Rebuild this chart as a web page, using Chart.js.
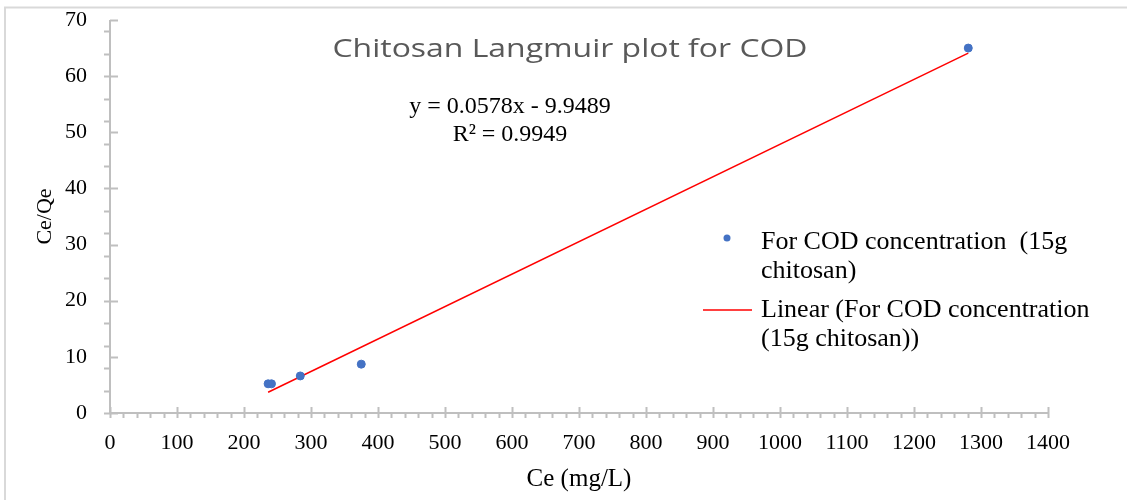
<!DOCTYPE html>
<html lang="en">
<head>
<meta charset="UTF-8">
<script src="https://cdn.jsdelivr.net/npm/chart.js@4.4.0/dist/chart.umd.min.js"></script>
<title>Chitosan Langmuir plot for COD</title>
<style>
  body { margin: 0; background: #fff; }
  canvas { display: block; }
</style>
</head>
<body>
<canvas id="chart" width="1127" height="500"></canvas>
<script>
// measured points: Ce (mg/L) against Ce/Qe
const ceValues = [236, 241, 284, 375, 1281];
const ceQeValues = [5.2, 5.2, 6.6, 8.7, 65.0];

// fitted line as reported on the chart
const fitSlope = 0.0578;
const fitIntercept = -9.9489;
const fitR2 = 0.9949;

const xMin = 0, xMax = 1400, xStep = 100, xMinorStep = 20;
const yMin = 0, yMax = 70, yStep = 10, yMinorStep = 4;

const chartTitle = 'Chitosan Langmuir plot for COD';
const seriesName = ['For COD concentration  (15g', 'chitosan)'];
const trendName = ['Linear (For COD concentration', '(15g chitosan))'];

const serif = "'Liberation Serif', 'Times New Roman', serif";
const axisGray = '#bfbfbf';

const points = ceValues.map((x, i) => ({ x: x, y: ceQeValues[i] }));
const fitX = [Math.min(...ceValues), Math.max(...ceValues)];
const fitLine = fitX.map(x => ({ x: x, y: fitSlope * x + fitIntercept }));

// outer frame
const frame = {
  id: 'frame',
  beforeDraw(chart) {
    const ctx = chart.ctx;
    ctx.save();
    ctx.fillStyle = '#fff';
    ctx.fillRect(0, 0, chart.width, chart.height);
    ctx.strokeStyle = '#d9d9d9';
    ctx.lineWidth = 2;
    ctx.strokeRect(5, 7.5, 2000, 2000);
    ctx.restore();
  }
};

// axis lines with major and minor tick marks
const axisTicks = {
  id: 'axisTicks',
  beforeDatasetsDraw(chart) {
    const ctx = chart.ctx;
    const xs = chart.scales.x, ys = chart.scales.y;
    const x0 = xs.getPixelForValue(xMin), x1 = xs.getPixelForValue(xMax);
    const y0 = ys.getPixelForValue(yMin), y1 = ys.getPixelForValue(yMax);
    ctx.save();
    ctx.strokeStyle = axisGray;
    ctx.lineWidth = 2;
    ctx.beginPath();
    ctx.moveTo(x0, y1); ctx.lineTo(x0, y0); ctx.lineTo(x1, y0);
    // x: minor outside, major across
    for (let v = xMin; v <= xMax; v += xMinorStep) {
      const px = Math.round(xs.getPixelForValue(v)) + 0.5;
      ctx.moveTo(px, y0); ctx.lineTo(px, y0 + 5);
    }
    for (let v = xMin; v <= xMax; v += xStep) {
      const px = Math.round(xs.getPixelForValue(v)) + 0.5;
      ctx.moveTo(px, y0 - 6); ctx.lineTo(px, y0);
    }
    // y: minor outside, major inside
    for (let v = yMin; v <= yMax; v += yMinorStep) {
      const py = Math.round(ys.getPixelForValue(v)) + 0.5;
      ctx.moveTo(x0 - 6, py); ctx.lineTo(x0, py);
    }
    for (let v = yMin; v <= yMax; v += yStep) {
      const py = Math.round(ys.getPixelForValue(v)) + 0.5;
      ctx.moveTo(x0, py); ctx.lineTo(x0 + 8, py);
    }
    ctx.stroke();
    ctx.restore();
  }
};

// title, regression equation and legend
const labels = {
  id: 'labels',
  afterDraw(chart) {
    const ctx = chart.ctx;
    ctx.save();
    ctx.textBaseline = 'middle';

    // title is wide and light, stretch it to its box
    ctx.save();
    ctx.fillStyle = '#595959';
    ctx.textAlign = 'center';
    ctx.font = "26px 'Open Sans', Lato, sans-serif";
    const tw = ctx.measureText(chartTitle).width;
    ctx.translate(570, 50);
    ctx.scale(475 / tw, 1);
    ctx.fillText(chartTitle, 0, 0);
    ctx.restore();

    ctx.fillStyle = '#000';
    ctx.textAlign = 'center';
    ctx.font = '24px ' + serif;
    ctx.fillText('y = ' + fitSlope + 'x - ' + Math.abs(fitIntercept), 510, 107);
    ctx.fillText('R\u00b2 = ' + fitR2, 510, 135);

    ctx.textAlign = 'left';
    ctx.font = '26px ' + serif;
    ctx.fillStyle = '#4472c4';
    ctx.beginPath();
    ctx.arc(727, 238, 3.5, 0, Math.PI * 2);
    ctx.fill();
    ctx.strokeStyle = '#ff0000';
    ctx.lineWidth = 1.5;
    ctx.beginPath();
    ctx.moveTo(703, 310); ctx.lineTo(752, 310);
    ctx.stroke();

    ctx.fillStyle = '#000';
    ctx.fillText(seriesName[0], 761, 242);
    ctx.fillText(seriesName[1], 761, 271);
    ctx.fillText(trendName[0], 761, 310);
    ctx.fillText(trendName[1], 761, 339);
    ctx.restore();
  }
};

const plainNumber = v => String(v);

new Chart(document.getElementById('chart'), {
  type: 'scatter',
  data: {
    datasets: [
      {
        label: seriesName.join(' '),
        data: points,
        backgroundColor: '#4472c4',
        borderColor: '#4472c4',
        pointRadius: 4,
        pointHoverRadius: 4
      },
      {
        type: 'line',
        label: trendName.join(' '),
        data: fitLine,
        borderColor: '#ff0000',
        borderWidth: 1.5,
        pointRadius: 0,
        fill: false
      }
    ]
  },
  options: {
    responsive: false,
    animation: false,
    layout: { padding: { top: 20, right: 79, left: 0, bottom: 0 } },
    plugins: {
      legend: { display: false },
      title: { display: false },
      tooltip: { enabled: false }
    },
    scales: {
      x: {
        type: 'linear',
        min: xMin, max: xMax,
        grid: { display: false },
        border: { display: false },
        ticks: { stepSize: xStep, color: '#000', padding: 9, callback: plainNumber, font: { family: serif, size: 22 } },
        title: { display: true, text: 'Ce (mg/L)', color: '#000', padding: { top: 0, bottom: 6 }, font: { family: serif, size: 25 } },
        afterFit(scale) { scale.height = 87; }
      },
      y: {
        type: 'linear',
        min: yMin, max: yMax,
        grid: { display: false },
        border: { display: false },
        ticks: { stepSize: yStep, color: '#000', padding: 15, callback: plainNumber, font: { family: serif, size: 22 } },
        title: { display: true, text: 'Ce/Qe', color: '#000', padding: { top: 32, bottom: 0 }, font: { family: serif, size: 22 } },
        afterFit(scale) {
          scale.width = 110;
          scale.paddingTop = 0;
          scale.paddingBottom = 0;
        }
      }
    }
  },
  plugins: [frame, axisTicks, labels]
});
</script>
</body>
</html>
